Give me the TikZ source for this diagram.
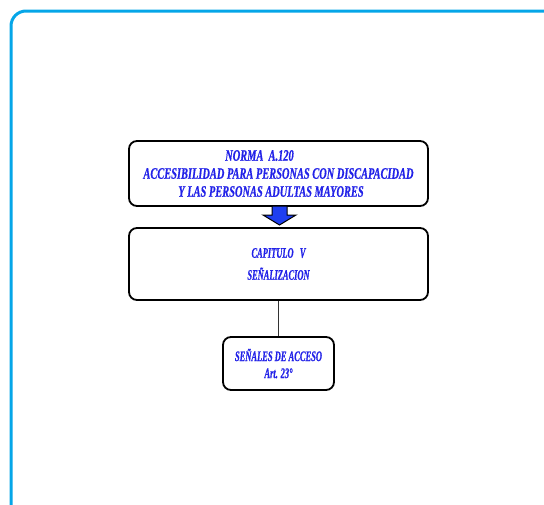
\documentclass[tikz,border=0pt]{standalone}
\usepackage{fontspec}
\usepackage{tikz}
\usetikzlibrary{arrows.meta, positioning}
\newfontfamily\normafont[FakeStretch=0.65, FakeBold=0.6]{Liberation Serif}
\newfontfamily\normanarrow[FakeStretch=0.58, FakeBold=0.6]{Liberation Serif}
\definecolor{NormaFrame}{HTML}{05A6E8}
\definecolor{NormaText}{HTML}{2222E8}
\definecolor{NormaArrow}{HTML}{1F3FF0}

\begin{document}
\begin{tikzpicture}[x=1pt, y=-1pt,
    box/.style={
      rectangle, rounded corners=8pt, draw=black, line width=1.8pt, fill=white,
      align=center, text=NormaText, inner sep=0pt
    },
    link/.style={line width=0.9pt, draw=black!80}
  ]
    \useasboundingbox (0,0) rectangle (544,504);
    \draw[NormaFrame, line width=3pt, rounded corners=15pt] (11,11) rectangle (570,530);

    \node[box, minimum width=299pt, minimum height=65pt,
      font=\normafont\bfseries\itshape\fontsize{16}{18}\selectfont] (norma) at (278.5,173.5)
      {\hspace*{-38pt}NORMA\ \ A.120\\
       ACCESIBILIDAD PARA PERSONAS CON DISCAPACIDAD\\
       \hspace*{-15pt}Y LAS PERSONAS ADULTAS MAYORES};

    \node[box, minimum width=299pt, minimum height=72pt,
      font=\normanarrow\bfseries\itshape\fontsize{14.5}{22}\selectfont] (capitulo) at (278.5,264)
      {CAPITULO\ \ \ V\\ SEÑALIZACION};

    % flecha de bloque entre las dos cajas
    \draw[fill=NormaArrow, line width=1pt, line join=miter]
      (272,206) -- (287,206) -- (287,215) -- (296,215) -- (279.5,225)
      -- (263,215) -- (272,215) -- cycle;

    \node[box, minimum width=111pt, minimum height=53pt,
      font=\normanarrow\bfseries\itshape\fontsize{14.6}{17}\selectfont] (senales) at (278.5,363.5)
      {SEÑALES DE ACCESO\\ Art. 23°};

    \draw[link] (capitulo) -- (senales);
  \end{tikzpicture}
\end{document}
